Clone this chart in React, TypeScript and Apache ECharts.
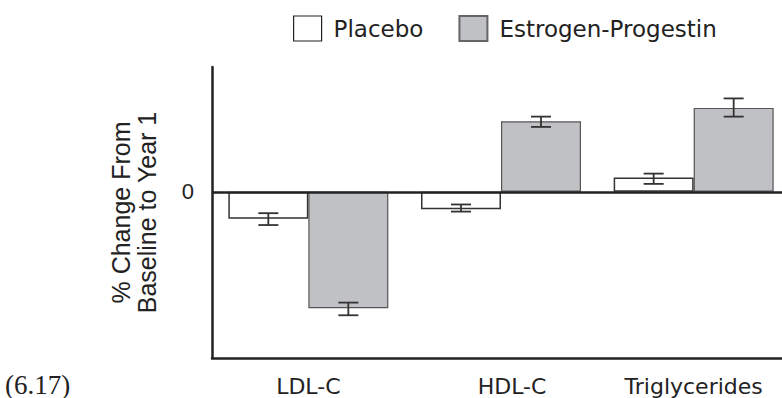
import React, { useEffect, useRef } from "react";
import * as echarts from "echarts";

const categories = ["LDL-C", "HDL-C", "Triglycerides"];
const seriesNames = ["Placebo", "Estrogen-Progestin"];
const placeboValues = [-3.4, -2.2, 1.8];
const epValues = [-14.7, 8.9, 10.6];
const placeboErrLow = [-4.2, -2.5, 1.0];
const placeboErrHigh = [-2.7, -1.6, 2.3];
const epErrLow = [-15.6, 8.2, 9.5];
const epErrHigh = [-14.0, 9.5, 11.8];
const yTickLabels = ["0"];
const yTitle = "% Change From\nBaseline to Year 1";
const figureNote = "(6.17)";

const SANS = "'DejaVu Sans', Verdana, sans-serif";
const ARIAL = "'Liberation Sans', Arial, sans-serif";
const INK = "#222";
const GRAY = "#c0c1c4";

export default function App() {
  const ref = useRef<HTMLDivElement>(null);
  useEffect(() => {
    if (!ref.current) return;
    const chart = echarts.init(ref.current, null, { renderer: "svg" });
    const errData = (lo: number[], hi: number[]) =>
      categories.map((_, i) => [i, lo[i], hi[i]]);
    const errSeries = (name: string, lo: number[], hi: number[], offset: number) => ({
      type: "custom",
      name: name + " error",
      silent: true,
      z: 5,
      encode: { x: 0, y: [1, 2] },
      data: errData(lo, hi),
      renderItem: (params: any, api: any) => {
        const c = api.value(0);
        const p1 = api.coord([c, api.value(1)]);
        const p2 = api.coord([c, api.value(2)]);
        const x = p1[0] + offset;
        const hw = 10;
        const style = { stroke: "#333", lineWidth: 1.8 };
        return {
          type: "group",
          children: [
            { type: "line", shape: { x1: x, y1: p1[1], x2: x, y2: p2[1] }, style },
            { type: "line", shape: { x1: x - hw, y1: p1[1], x2: x + hw, y2: p1[1] }, style },
            { type: "line", shape: { x1: x - hw, y1: p2[1], x2: x + hw, y2: p2[1] }, style },
          ],
        };
      },
    });
    chart.setOption({
      animation: false,
      backgroundColor: "#fff",
      grid: { left: 212, right: -8, top: 67, bottom: 40, outerBoundsMode: "none" },
      legend: {
        left: 288,
        top: 10,
        itemWidth: 28,
        itemHeight: 25,
        itemGap: 35,
        icon: "rect",
        textStyle: { fontFamily: SANS, fontSize: 23, color: INK, padding: [0, 0, 0, 7] },
        data: [
          { name: seriesNames[0], itemStyle: { color: "#fff", borderColor: INK, borderWidth: 1.2 } },
          { name: seriesNames[1], itemStyle: { color: GRAY, borderColor: "#666", borderWidth: 2 } },
        ],
      },
      xAxis: {
        type: "category",
        data: categories,
        axisLine: { show: true, onZero: false, lineStyle: { color: INK, width: 2.5 } },
        axisTick: { show: false },
        axisLabel: {
          interval: 0,
          fontFamily: SANS,
          fontSize: 22,
          lineHeight: 22,
          color: INK,
          margin: 17,
          formatter: (v: string, i: number) => (i === 1 ? "{s|" + v + "}" : v),
          rich: {
            s: { fontFamily: SANS, fontSize: 22, lineHeight: 22, color: INK, padding: [0, 0, 0, 22] },
          },
        },
        splitLine: { show: false },
      },
      yAxis: {
        type: "value",
        min: -21,
        max: 15.77,
        interval: 7,
        name: yTitle,
        nameLocation: "middle",
        nameGap: 52,
        nameTextStyle: { fontFamily: ARIAL, fontSize: 25, color: INK, lineHeight: 26 },
        axisLine: { show: true, lineStyle: { color: INK, width: 2.5 } },
        axisTick: { show: false },
        splitLine: { show: false },
        axisLabel: {
          fontFamily: ARIAL,
          fontSize: 22,
          color: INK,
          margin: 18,
          formatter: (v: number) => (v === 0 ? yTickLabels[0] : ""),
        },
      },
      series: [
        {
          type: "bar",
          name: seriesNames[0],
          data: placeboValues,
          barWidth: 80,
          barGap: "0%",
          itemStyle: { color: "#fff", borderColor: "#333", borderWidth: 1.5 },
          markLine: {
            silent: true,
            symbol: "none",
            label: { show: false },
            lineStyle: { color: INK, width: 2.5, type: "solid" },
            data: [{ yAxis: 0 }],
            z: 10,
          },
        },
        {
          type: "bar",
          name: seriesNames[1],
          data: epValues,
          barWidth: 80,
          barGap: "0%",
          itemStyle: { color: GRAY, borderColor: "#555", borderWidth: 1.2 },
        },
        errSeries(seriesNames[0], placeboErrLow, placeboErrHigh, -40),
        errSeries(seriesNames[1], epErrLow, epErrHigh, 40),
      ],
      graphic: [
        {
          type: "text",
          left: 5,
          top: 371,
          style: {
            text: figureNote,
            fontFamily: "'Liberation Serif', 'Times New Roman', serif",
            fontSize: 27,
            lineHeight: 27,
            fill: INK,
          },
        },
      ],
    });
    return () => chart.dispose();
  }, []);
  return (
    <div
      ref={ref}
      style={{ position: "absolute", left: 0, top: 0, width: 782, height: 398 }}
    />
  );
}
